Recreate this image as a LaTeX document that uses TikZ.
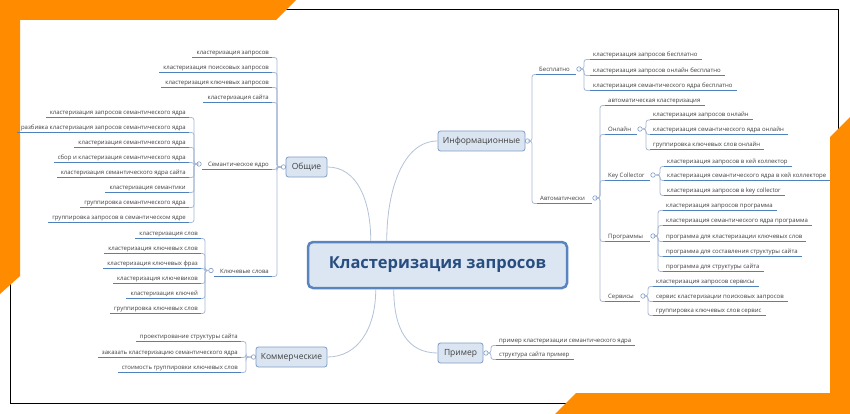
\documentclass[tikz,border=0pt]{standalone}
\usepackage{fontspec}
\setmainfont{Open Sans}
\usetikzlibrary{calc}
\definecolor{org}{HTML}{FF8C00}
\definecolor{ublue}{HTML}{4F81BD}
\definecolor{brkc}{HTML}{A7B9D6}
\definecolor{connc}{HTML}{B4C2D8}
\definecolor{boxf}{HTML}{DBE5F1}
\definecolor{boxd}{HTML}{7E9CC9}
\definecolor{rootf}{HTML}{DCE6F2}
\definecolor{rootd}{HTML}{5884BF}
\definecolor{roott}{HTML}{284E80}
\definecolor{txt}{HTML}{404040}
\tikzset{
  leaf/.style={inner sep=0pt, text=txt, font=\fontsize{6}{7}\selectfont},
  leafL/.style={leaf, anchor=base east},
  leafR/.style={leaf, anchor=base west},
  mainbox/.style={draw=boxd, fill=boxf, line width=0.8pt, rounded corners=2.5pt, minimum height=20pt, inner sep=0pt, text=txt, font=\fontsize{8.5}{10}\selectfont},
  rootbox/.style={draw=rootd, fill=rootf, line width=2.5pt, rounded corners=5pt, minimum width=259pt, minimum height=46pt, inner sep=0pt, text=roott, font=\fontsize{16.5}{19}\selectfont\bfseries},
  circ/.style={circle, draw=boxd, fill=white, line width=0.6pt, minimum size=4.5pt, inner sep=0pt},
  uline/.style={draw=ublue, line width=1pt},
  brk/.style={draw=brkc, line width=0.8pt, rounded corners=2.5pt},
  conn/.style={draw=connc, line width=0.8pt},
}
\begin{document}
\begin{tikzpicture}[x=1pt,y=-1pt]
\useasboundingbox (0,0) rectangle (850,414);
\fill[white] (0,0) rectangle (850,414);
\draw[black, line width=1pt] (10,10) rectangle (838,403);
\fill[org] (0,0) -- (296,0) -- (276,20) -- (20,20) -- (20,276) -- (0,294) -- cycle;
\fill[org] (850,117) -- (850,414) -- (555,414) -- (576,393) -- (830,393) -- (830,137) -- cycle;

% central and main boxes
\node[rootbox] (root) at (437.5,265) {Кластеризация запросов};
\node[mainbox, minimum width=41pt] (obsh) at (306.5,167) {Общие};
\node[mainbox, minimum width=87pt] (info) at (481.5,141) {Информационные};
\node[mainbox, minimum width=71pt] (komm) at (291.5,357) {Коммерческие};
\node[mainbox, minimum width=45pt] (prim) at (460.5,353) {Пример};

\draw[conn] ([xshift=64pt]root.north west) .. controls +(0,-40) and +(30,0) .. (obsh.east);
\draw[conn] ([xshift=80pt]root.north west) .. controls +(0,-50) and +(-35,0) .. (info.west);
\draw[conn] ([xshift=69pt]root.south west) .. controls +(0,40) and +(30,0) .. (komm.east);
\draw[conn] ([xshift=87pt]root.south west) .. controls +(0,40) and +(-30,0) .. (prim.west);

% ---------- left side texts ----------
\node[leafL] (o1) at (269,54.5) {кластеризация запросов};
\node[leafL] (o2) at (269,69.5) {кластеризация поисковых запросов};
\node[leafL] (o3) at (269,84.5) {кластеризация ключевых запросов};
\node[leafL] (o4) at (269,99.5) {кластеризация сайта};
\node[leafL] (o5) at (269,166.5) {Семантическое ядро};
\node[leafL] (o6) at (269,273.5) {Ключевые слова};

\node[leafL] (s1) at (186,114.5) {кластеризация запросов семантического ядра};
\node[leafL] (s2) at (186,129.5) {разбивка кластеризация запросов семантического ядра};
\node[leafL] (s3) at (186,144.5) {кластеризация семантического ядра};
\node[leafL] (s4) at (186,159.5) {сбор и кластеризация семантического ядра};
\node[leafL] (s5) at (186,174.5) {кластеризация семантического ядра сайта};
\node[leafL] (s6) at (186,189.5) {кластеризация семантики};
\node[leafL] (s7) at (186,204.5) {группировка семантического ядра};
\node[leafL] (s8) at (186,219.5) {группировка запросов в семантическом ядре};

\node[leafL] (k1) at (198,235.5) {кластеризация слов};
\node[leafL] (k2) at (198,250.5) {кластеризация ключевых слов};
\node[leafL] (k3) at (198,265.5) {кластеризация ключевых фраз};
\node[leafL] (k4) at (198,280.5) {кластеризация ключевиков};
\node[leafL] (k5) at (198,295.5) {кластеризация ключей};
\node[leafL] (k6) at (198,310.5) {группировка ключевых слов};

\node[leafL] (c1) at (238,338.5) {проектирование структуры сайта};
\node[leafL] (c2) at (238,354.5) {заказать кластеризацию семантического ядра};
\node[leafL] (c3) at (238,369.5) {стоимость группировки ключевых слов};

% ---------- right side texts ----------
\node[leafR] (bes) at (539,71.5) {Бесплатно};
\node[leafR] (avt) at (540,200.5) {Автоматически};

\node[leafR] (b1) at (593,56.5) {кластеризация запросов бесплатно};
\node[leafR] (b2) at (593,72.5) {кластеризация запросов онлайн бесплатно};
\node[leafR] (b3) at (593,87.5) {кластеризация семантического ядра бесплатно};

\node[leafR] (a1) at (608,102.5) {автоматическая кластеризация};
\node[leafR] (onl) at (608,131.5) {Онлайн};
\node[leafR] (kc) at (608,177.5) {Key Collector};
\node[leafR] (prg) at (608,238.5) {Программы};
\node[leafR] (srv) at (608,298.5) {Сервисы};

\node[leafR] (n1) at (653,117) {кластеризация запросов онлайн};
\node[leafR] (n2) at (653,131.5) {кластеризация семантического ядра онлайн};
\node[leafR] (n3) at (653,147) {группировка ключевых слов онлайн};

\node[leafR] (q1) at (667,163.5) {кластеризация запросов в кей коллектор};
\node[leafR] (q2) at (667,177.5) {кластеризация семантического ядра в кей коллекторе};
\node[leafR] (q3) at (667,192.5) {кластеризация запросов в key collector};

\node[leafR] (p1) at (666,207.5) {кластеризация запросов программа};
\node[leafR] (p2) at (666,222.5) {кластеризация семантического ядра программа};
\node[leafR] (p3) at (666,238.5) {программа для кластеризации ключевых слов};
\node[leafR] (p4) at (666,253.5) {программа для составления структуры сайта};
\node[leafR] (p5) at (666,268.5) {программа для структуры сайта};

\node[leafR] (v1) at (656,283.5) {кластеризация запросов сервисы};
\node[leafR] (v2) at (656,298.5) {сервис кластеризации поисковых запросов};
\node[leafR] (v3) at (656,312.5) {группировка ключевых слов сервис};

\node[leafR] (e1) at (499,342.5) {пример кластеризации семантического ядра};
\node[leafR] (e2) at (499,356.5) {структура сайта пример};

% ---------- collapse circles ----------
\node[circ] (obsh-c) at (283.5,167) {};
\node[circ] (komm-c) at (253.5,357) {};
\node[circ] (info-c) at (527.5,141) {};
\node[circ] (prim-c) at (486,353) {};
\node[circ] (sem-c) at (199,164) {};
\node[circ] (kw-c) at (211,270.5) {};
\node[circ] (bes-c) at (579,69) {};
\node[circ] (avt-c) at (595,198) {};
\node[circ] (onl-c) at (640,129) {};
\node[circ] (kc-c) at (653,175) {};
\node[circ] (prg-c) at (653,236) {};
\node[circ] (srv-c) at (643,296) {};

% bracket x positions
\coordinate (bxO) at (277,0);
\coordinate (bxS) at (194,0);
\coordinate (bxK) at (205,0);
\coordinate (bxC) at (246,0);
\coordinate (bxI) at (532,0);
\coordinate (bxB) at (584,0);
\coordinate (bxA) at (600,0);
\coordinate (bxN) at (646,0);
\coordinate (bxQ) at (660,0);
\coordinate (bxP) at (658,0);
\coordinate (bxV) at (648,0);
\coordinate (bxE) at (491,0);

% underline end points
\foreach \n in {o1,o2,o3,o4,o5,o6,s1,s2,s3,s4,s5,s6,s7,s8,k1,k2,k3,k4,k5,k6,c1,c2,c3}
  \path (\n.base east) ++(3,3) coordinate (\n-u);
\foreach \n in {bes,avt,b1,b2,b3,a1,onl,kc,prg,srv,n1,n2,n3,q1,q2,q3,p1,p2,p3,p4,p5,v1,v2,v3,e1,e2}
  \path (\n.base west) ++(-3,3) coordinate (\n-u);

% brackets
\foreach \n in {o1,o2,o3,o4,o5,o6} \draw[brk] (obsh-c.west) -| (bxO |- \n-u) -- (\n-u);
\foreach \n in {s1,s2,s3,s4,s5,s6,s7,s8} \draw[brk] (sem-c.west) -| (bxS |- \n-u) -- (\n-u);
\foreach \n in {k1,k2,k3,k4,k5,k6} \draw[brk] (kw-c.west) -| (bxK |- \n-u) -- (\n-u);
\foreach \n in {c1,c2,c3} \draw[brk] (komm-c.west) -| (bxC |- \n-u) -- (\n-u);
\foreach \n in {bes,avt} \draw[brk] (info-c.east) -| (bxI |- \n-u) -- (\n-u);
\foreach \n in {b1,b2,b3} \draw[brk] (bes-c.east) -| (bxB |- \n-u) -- (\n-u);
\foreach \n in {a1,onl,kc,prg,srv} \draw[brk] (avt-c.east) -| (bxA |- \n-u) -- (\n-u);
\foreach \n in {n1,n2,n3} \draw[brk] (onl-c.east) -| (bxN |- \n-u) -- (\n-u);
\foreach \n in {q1,q2,q3} \draw[brk] (kc-c.east) -| (bxQ |- \n-u) -- (\n-u);
\foreach \n in {p1,p2,p3,p4,p5} \draw[brk] (prg-c.east) -| (bxP |- \n-u) -- (\n-u);
\foreach \n in {v1,v2,v3} \draw[brk] (srv-c.east) -| (bxV |- \n-u) -- (\n-u);
\foreach \n in {e1,e2} \draw[brk] (prim-c.east) -| (bxE |- \n-u) -- (\n-u);

% underlines
\foreach \n in {o1,o2,o3,o4,s1,s2,s3,s4,s5,s6,s7,s8,k1,k2,k3,k4,k5,k6,c1,c2,c3}
  \draw[uline] (\n-u) -- ($(\n.base west)+(-4,3)$);
\draw[uline] (o5-u) -- (o5-u -| sem-c.east);
\draw[uline] (o6-u) -- (o6-u -| kw-c.east);
\foreach \n in {b1,b2,b3,a1,n1,n2,n3,q1,q2,q3,p1,p2,p3,p4,p5,v1,v2,v3,e1,e2}
  \draw[uline] (\n-u) -- ($(\n.base east)+(4,3)$);
\draw[uline] (bes-u) -- (bes-u -| bes-c.west);
\draw[uline] (avt-u) -- (avt-u -| avt-c.west);
\draw[uline] (onl-u) -- (onl-u -| onl-c.west);
\draw[uline] (kc-u) -- (kc-u -| kc-c.west);
\draw[uline] (prg-u) -- (prg-u -| prg-c.west);
\draw[uline] (srv-u) -- (srv-u -| srv-c.west);
\end{tikzpicture}
\end{document}
